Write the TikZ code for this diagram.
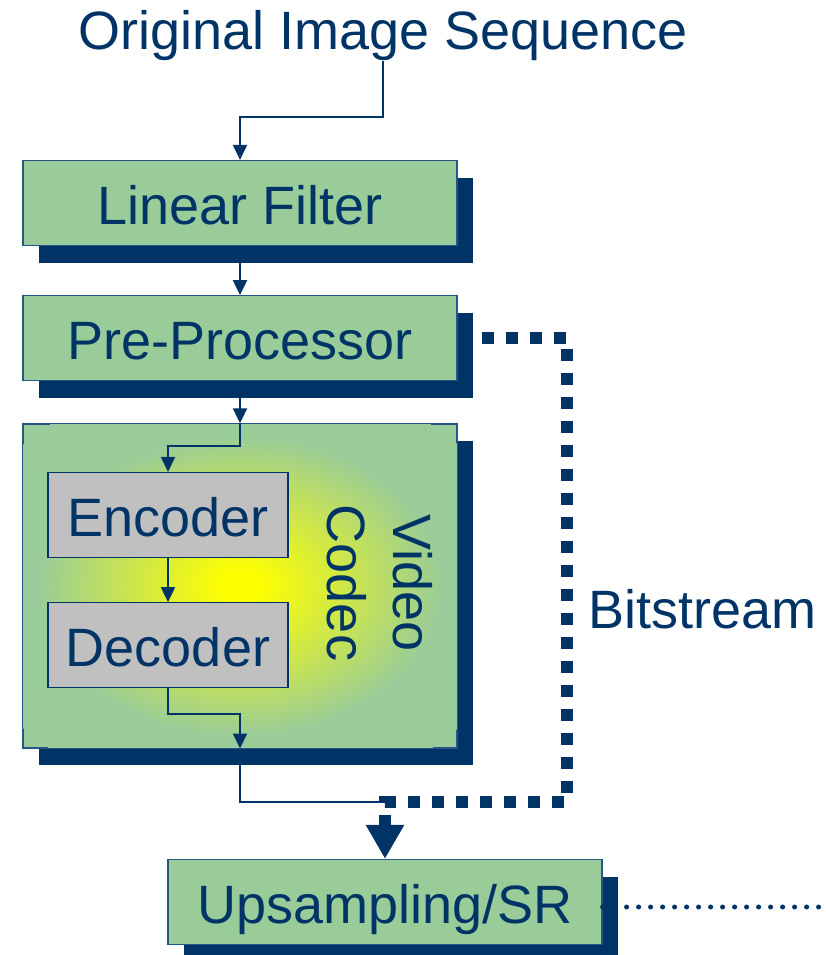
\documentclass[tikz,border=0pt]{standalone}
\usepackage{fontspec}
\setmainfont{Liberation Sans}
\usepackage{tikz}
\usetikzlibrary{arrows.meta, positioning, shadows}
\definecolor{sr-navy}{RGB}{0,51,102}
\definecolor{sr-green}{RGB}{153,204,153}
\definecolor{sr-grey}{RGB}{192,192,192}
\definecolor{sr-edge}{RGB}{40,85,135}
\pgfdeclareradialshading{codecglow}{\pgfpoint{0bp}{0bp}}{color(0bp)=(yellow); color(3bp)=(yellow); color(35bp)=(sr-green); color(50bp)=(sr-green)}

\begin{document}
\begin{tikzpicture}[
    x=1pt, y=-1pt,
    node distance=49pt,
    srbox/.style={rectangle, draw=sr-edge, line width=1.2pt, fill=sr-green, minimum width=434pt, minimum height=85pt, inner sep=0pt, text=sr-navy, font=\fontsize{54}{64}\selectfont, text height=43pt, text depth=0pt, drop shadow={shadow xshift=16pt, shadow yshift=-17pt, fill=sr-navy, opacity=1}},
    codecbox/.style={srbox, minimum height=324pt},
    subbox/.style={rectangle, draw=sr-navy, line width=1.2pt, fill=sr-grey, minimum width=240pt, minimum height=85pt, inner sep=0pt, text=sr-navy, font=\fontsize{54}{64}\selectfont, text height=43pt, text depth=0pt},
    lbl/.style={inner sep=0pt, text=sr-navy, font=\fontsize{54}{66}\selectfont},
    link/.style={-{Triangle[width=14pt,length=15pt]}, line width=2pt, draw=sr-navy},
    bits/.style={-{Triangle[width=36pt,length=34pt]}, line width=12pt, dash pattern=on 12pt off 12pt, draw=sr-navy},
    dots/.style={line width=5pt, line cap=round, dash pattern=on 0pt off 12pt, draw=sr-navy}
]
    \useasboundingbox (0,0) rectangle (825,955);

    \node[lbl, anchor=base] (orig) at (383,50) {Original Image Sequence};
    \node[srbox] (lin) at (240,203) {Linear Filter};
    \node[srbox, below=of lin] (pre) {Pre-Processor};
    \node[codecbox, below=42pt of pre] (codec) {};
    % yellow glow, stretched to the box
    \begin{scope}
        \clip ([xshift=1pt,yshift=1pt]codec.south west) rectangle ([xshift=-1pt,yshift=-1pt]codec.north east);
        \begin{scope}[shift={(codec.center)}, xscale=5.75, yscale=4.3]
            \pgflowlevelsynccm
            \pgfuseshading{codecglow}
        \end{scope}
    \end{scope}
    \node[subbox] (enc) at (168,515) {Encoder};
    \node[subbox, below=44pt of enc] (dec) {Decoder};
    \node[lbl, rotate=-90, align=center] (codeclbl) at (380,583) {Video\\Codec};
    \node[srbox] (ups) at (385,902) {Upsampling/SR};
    \node[lbl, anchor=west] (bslbl) at (588,609) {Bitstream};

    \coordinate (titlebend) at (383,117);
    \coordinate (bsturn) at (567,802);
    \coordinate (merge) at (385,802);
    \coordinate (dotend) at (825,907);

    \draw[link] (orig.south) -- (titlebend) -| (lin.north);
    \draw[link] (lin) -- (pre);
    \draw[link] (pre) -- (codec);
    \draw[link] (codec.north) -- ++(0,23) -| (enc.north);
    \draw[link] (enc) -- (dec);
    \draw[link] (dec.south) -- ++(0,26) -| (codec.south);

    % codec output and bitstream meet above the upsampler
    \draw[line width=2pt, draw=sr-navy] (codec.south) |- (merge);
    \draw[bits] (pre.east) -| (bsturn) -- (merge) -- (ups.north);
    \draw[dots] (ups.east |- dotend) -- (dotend);
\end{tikzpicture}
\end{document}
